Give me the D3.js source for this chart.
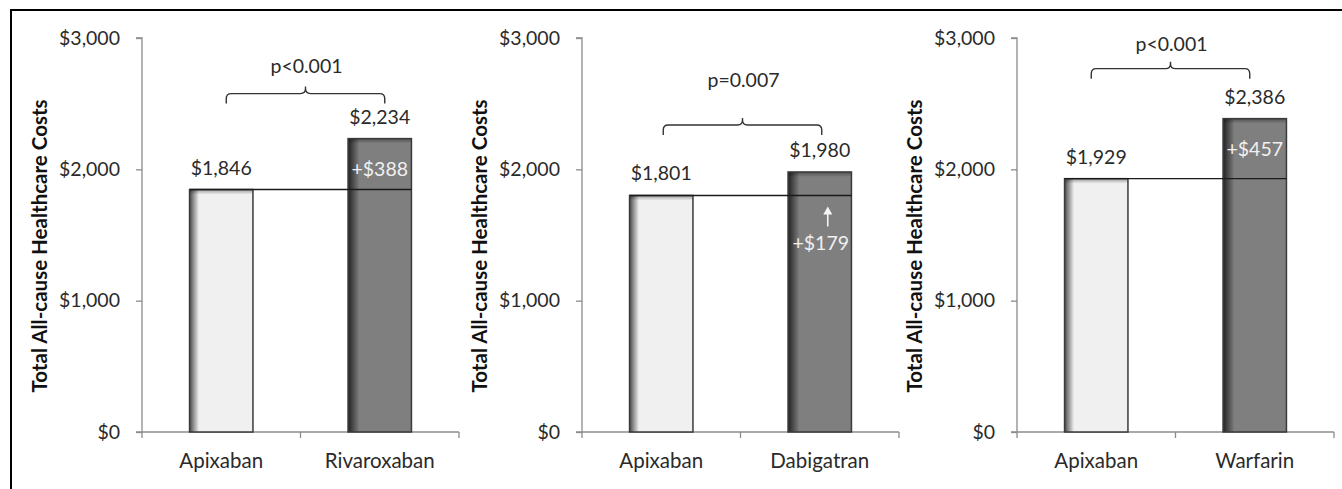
<!DOCTYPE html>
<html>
<head>
<meta charset="utf-8">
<script src="https://cdn.jsdelivr.net/npm/d3@7"></script>
<style>
  html, body { margin: 0; padding: 0; background: #fff; }
  svg { display: block; font-family: Lato, "Open Sans", "Liberation Sans", sans-serif; }
</style>
</head>
<body>
<svg id="chart" width="1342" height="489"></svg>
<script>
// Reference drug and comparators, one panel per comparison
const referenceDrug = "Apixaban";
const comparators = ["Rivaroxaban", "Dabigatran", "Warfarin"];
const referenceCosts = [1846, 1801, 1929];
const comparatorCosts = [2234, 1980, 2386];
const pValueLabels = ["p<0.001", "p=0.007", "p<0.001"];
const yTickValues = [0, 1000, 2000, 3000];
const yAxisTitle = "Total All-cause Healthcare Costs";

// Panel layout
const panelLeft = [142, 582, 1017];
const plotWidth = 317;
const plotTop = 38, plotBottom = 432;
const bracketRise = [45, 47, 50];      // gap between taller bar and bracket
const pLabelRise = [21, 38, 18];        // gap between bracket and p-value text
const diffInside = [true, false, true]; // difference label inside bar or below the line

const fmt = d3.format("$,");
const svg = d3.select("#chart");

// gradients for the bar fills (dark shading on the left edge)
const defs = svg.append("defs");
function shadeGradient(id, dark, fill, stop) {
  const g = defs.append("linearGradient").attr("id", id)
    .attr("x1", "0%").attr("x2", "100%").attr("y1", "0%").attr("y2", "0%");
  g.append("stop").attr("offset", "0%").attr("stop-color", dark);
  g.append("stop").attr("offset", stop).attr("stop-color", fill);
  g.append("stop").attr("offset", "100%").attr("stop-color", fill);
}
shadeGradient("lightBar", "#4a4a4a", "#f0f0f0", "15%");
shadeGradient("darkBar", "#222222", "#7f7f7f", "18%");
const topShade = defs.append("linearGradient").attr("id", "topShade")
  .attr("x1", "0%").attr("x2", "0%").attr("y1", "0%").attr("y2", "100%");
topShade.append("stop").attr("offset", "0%").attr("stop-color", "#000").attr("stop-opacity", 0.35);
topShade.append("stop").attr("offset", "100%").attr("stop-color", "#000").attr("stop-opacity", 0);

// outer frame
svg.append("path").attr("d", "M11,489 V10 H1342")
  .attr("fill", "none").attr("stroke", "#000").attr("stroke-width", 2);

const y = d3.scaleLinear().domain([0, 3000]).range([plotBottom, plotTop]);

comparators.forEach((comp, i) => {
  const left = panelLeft[i];
  const cats = [referenceDrug, comp];
  const vals = [referenceCosts[i], comparatorCosts[i]];
  const x = d3.scaleBand().domain(cats).range([left, left + plotWidth])
    .paddingInner(0.6).paddingOuter(0.3);
  const step = x.step();
  const bw = x.bandwidth();
  const g = svg.append("g");

  // y axis
  const yAxis = d3.axisLeft(y).tickValues(yTickValues).tickFormat(fmt)
    .tickSize(6).tickPadding(16);
  const ya = g.append("g").attr("transform", `translate(${left},0)`).call(yAxis);
  ya.select(".domain").attr("stroke", "#8c8c8c").attr("stroke-width", 1.3)
    .attr("d", `M-6,${plotTop}H0V${plotBottom}H-6`);
  ya.selectAll(".tick line").attr("stroke", "#8c8c8c").attr("stroke-width", 1.3);
  ya.selectAll(".tick text").attr("fill", "#2a2a2a").style("font-size", "19.5px")
    .style("font-family", "Lato, sans-serif");

  // x axis with tick marks between categories
  const bounds = [left, left + step, left + 2 * step];
  g.append("line").attr("x1", left).attr("x2", left + plotWidth)
    .attr("y1", plotBottom).attr("y2", plotBottom)
    .attr("stroke", "#8c8c8c").attr("stroke-width", 1.3);
  g.selectAll(".xtick").data(bounds).join("line")
    .attr("x1", d => d).attr("x2", d => d)
    .attr("y1", plotBottom).attr("y2", plotBottom + 6)
    .attr("stroke", "#8c8c8c").attr("stroke-width", 1.3);
  g.selectAll(".xlab").data(cats).join("text")
    .attr("x", d => x(d) + bw / 2).attr("y", plotBottom + 36)
    .attr("text-anchor", "middle").attr("fill", "#2a2a2a")
    .style("font-size", "20.5px").text(d => d);

  // y axis title
  g.append("text")
    .attr("transform", `translate(${left - 95},246) rotate(-90)`)
    .attr("text-anchor", "middle").attr("fill", "#111")
    .style("font-size", "20.5px").style("font-weight", "bold")
    .text(yAxisTitle);

  // bars
  g.selectAll(".bar").data(vals).join("rect")
    .attr("x", (d, j) => x(cats[j])).attr("width", bw)
    .attr("y", d => y(d)).attr("height", d => plotBottom - y(d))
    .attr("fill", (d, j) => j === 0 ? "url(#lightBar)" : "url(#darkBar)");
  g.selectAll(".shade").data(vals).join("rect")
    .attr("x", (d, j) => x(cats[j])).attr("width", bw)
    .attr("y", d => y(d)).attr("height", 5)
    .attr("fill", "url(#topShade)");
  g.selectAll(".barEdge").data(vals).join("rect")
    .attr("x", (d, j) => x(cats[j])).attr("width", bw)
    .attr("y", d => y(d)).attr("height", d => plotBottom - y(d))
    .attr("fill", "none").attr("stroke", "#3a3a3a").attr("stroke-width", 1.5);

  // reference level line across both bars
  g.append("line")
    .attr("x1", x(cats[0])).attr("x2", x(cats[1]) + bw)
    .attr("y1", y(vals[0])).attr("y2", y(vals[0]))
    .attr("stroke", "#1a1a1a").attr("stroke-width", 1.4);

  // value labels above bars
  g.selectAll(".val").data(vals).join("text")
    .attr("x", (d, j) => x(cats[j]) + bw / 2).attr("y", d => y(d) - 15)
    .attr("text-anchor", "middle").attr("fill", "#2a2a2a")
    .style("font-size", "19.5px").text(d => fmt(d));

  // difference label
  const diff = vals[1] - vals[0];
  const cx = x(cats[1]) + bw / 2;
  if (diffInside[i]) {
    g.append("text").attr("x", cx).attr("y", y(vals[1]) + 37)
      .attr("text-anchor", "middle").attr("fill", "#f0f0f0")
      .style("font-size", "19.5px").text("+" + fmt(diff));
  } else {
    const ax = cx + 8, ay = y(vals[0]);
    g.append("line").attr("x1", ax).attr("x2", ax)
      .attr("y1", ay + 31).attr("y2", ay + 16)
      .attr("stroke", "#f4f4f4").attr("stroke-width", 1.6);
    g.append("path")
      .attr("d", `M${ax},${ay + 11}L${ax - 4.5},${ay + 19}L${ax + 4.5},${ay + 19}Z`)
      .attr("fill", "#f4f4f4");
    g.append("text").attr("x", cx + 1).attr("y", ay + 55)
      .attr("text-anchor", "middle").attr("fill", "#f0f0f0")
      .style("font-size", "19.5px").text("+" + fmt(diff));
  }

  // significance bracket
  const off = i === 2 ? -5 : (i === 0 ? 5 : 2);
  const bx1 = x(cats[0]) + bw / 2 + off, bx2 = x(cats[1]) + bw / 2 + off;
  const by = y(d3.max(vals)) - bracketRise[i];
  const bm = (bx1 + bx2) / 2;
  const r = 5;
  const p = d3.path();
  p.moveTo(bx1, by + 10);
  p.lineTo(bx1, by + r);
  p.quadraticCurveTo(bx1, by, bx1 + r, by);
  p.lineTo(bm - r, by);
  p.quadraticCurveTo(bm, by, bm, by - r);
  p.lineTo(bm, by - 7);
  p.moveTo(bm, by - r);
  p.quadraticCurveTo(bm, by, bm + r, by);
  p.lineTo(bx2 - r, by);
  p.quadraticCurveTo(bx2, by, bx2, by + r);
  p.lineTo(bx2, by + 10);
  g.append("path").attr("d", p.toString()).attr("fill", "none")
    .attr("stroke", "#333").attr("stroke-width", 1.4);
  g.append("text").attr("x", bm + 1).attr("y", by - pLabelRise[i])
    .attr("text-anchor", "middle").attr("fill", "#2a2a2a")
    .style("font-size", "19.5px").text(pValueLabels[i]);
});
</script>
</body>
</html>
